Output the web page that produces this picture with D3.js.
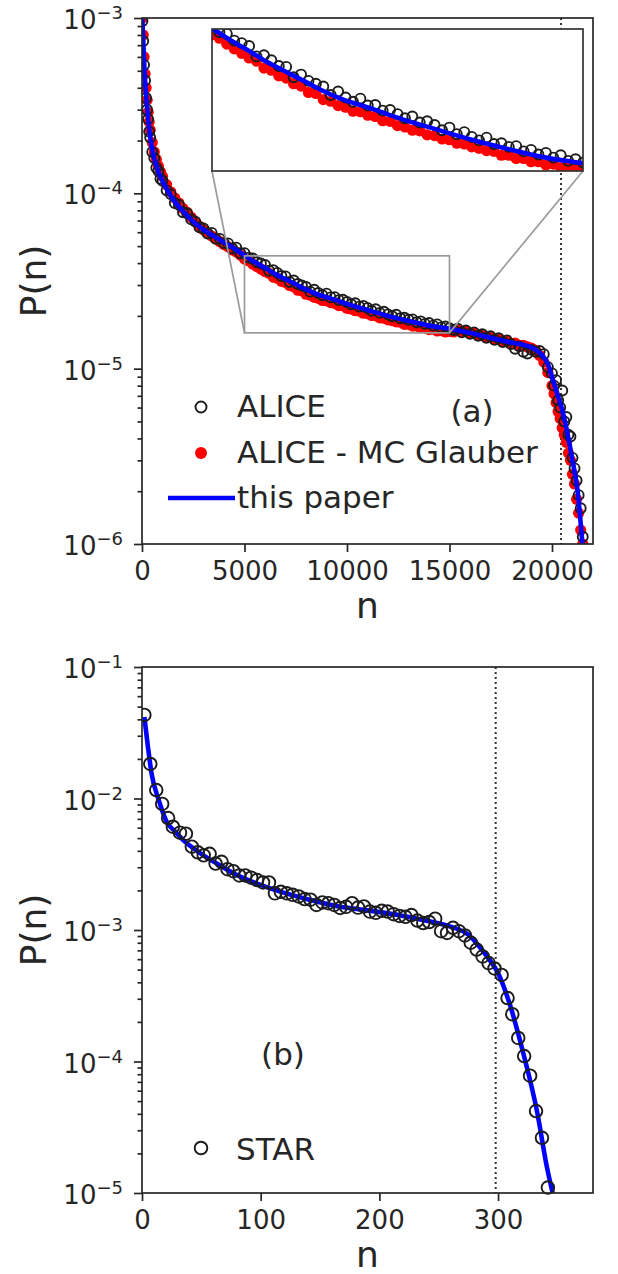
<!DOCTYPE html>
<html>
<head>
<meta charset="utf-8">
<script src="https://cdn.jsdelivr.net/npm/d3@7"></script>
<style>
  body { margin: 0; background: #fff; }
  text { font-family: "DejaVu Sans", sans-serif; fill: #262626; }
</style>
</head>
<body>
<svg id="chart"></svg>
<script>
// ---------------- data, panel (a) : values of P(n) in units of 1e-5 ----------------
const unitA = 1e-5;

const topN = [20, 60, 100, 150, 200, 250, 300, 350, 400, 500, 600, 700, 800, 900, 1000,
  1200, 1400, 1600, 1800, 2000, 2200, 2400, 2600, 2800, 3000,
  3200, 3400, 3600, 3800, 4000, 4200, 4400, 4600, 4800, 5000,
  5200, 5400, 5600, 5800, 6000, 6200, 6400, 6600, 6800, 7000,
  7200, 7400, 7600, 7800, 8000, 8200, 8400, 8600, 8800, 9000,
  9200, 9400, 9600, 9800, 10000, 10200, 10400, 10600, 10800, 11000,
  11200, 11400, 11600, 11800, 12000, 12200, 12400, 12600, 12800, 13000,
  13200, 13400, 13600, 13800, 14000, 14200, 14400, 14600, 14800, 15000,
  15200, 15400, 15600, 15800, 16000, 16200, 16400, 16600, 16800, 17000,
  17200, 17400, 17600, 17800, 18000, 18200, 18400, 18600, 18800, 19000,
  19200, 19400, 19600, 19800, 20000,
  20100, 20200, 20300, 20400, 20500, 20600, 20700, 20800, 20900, 21000,
  21100, 21200, 21300, 21400, 21500];

const aliceP = [96, 74, 54, 44, 35, 30, 26.5, 22.5, 20.8, 17.2, 15.9, 14.0, 13.4, 12.1, 11.8,
  10.4, 9.9, 8.8, 8.6, 7.8, 7.7, 7.1, 6.9, 6.4, 6.3,
  5.9, 5.95, 5.5, 5.5, 5.2, 5.18, 4.85, 4.9, 4.55, 4.56,
  4.3, 4.25, 4.05, 3.98, 3.9, 3.62, 3.65, 3.52, 3.38, 3.36,
  3.12, 3.18, 3.04, 2.98, 2.92, 2.75, 2.82, 2.70, 2.62, 2.68,
  2.55, 2.56, 2.46, 2.47, 2.40, 2.33, 2.36, 2.26, 2.28, 2.22,
  2.14, 2.18, 2.08, 2.11, 2.04, 1.99, 2.03, 1.94, 1.95, 1.90,
  1.91, 1.84, 1.86, 1.80, 1.82, 1.76, 1.79, 1.72, 1.74, 1.70,
  1.66, 1.69, 1.61, 1.65, 1.58, 1.61, 1.54, 1.57, 1.50, 1.53,
  1.46, 1.49, 1.42, 1.45, 1.38, 1.30, 1.34, 1.25, 1.22, 1.28,
  1.25, 1.26, 1.21, 1.02, 0.94,
  0.80, 0.86, 0.66, 0.60, 0.75, 0.50, 0.53, 0.42, 0.41, 0.31,
  0.27, 0.23, 0.19, 0.16, 0.11];

const glauberP = [100, 80, 60, 48, 40, 34, 29, 25.5, 23, 19.5, 17.2, 15.6, 14.3, 13.3, 12.5,
  11.2, 10.2, 9.4, 8.8, 8.2, 7.8, 7.3, 6.9, 6.5, 6.2,
  5.95, 5.7, 5.5, 5.3, 5.1, 4.95, 4.75, 4.62, 4.45, 4.22,
  4.12, 3.95, 3.82, 3.7, 3.58, 3.50, 3.33, 3.28, 3.15, 3.10,
  2.98, 2.93, 2.80, 2.78, 2.66, 2.63, 2.55, 2.52, 2.45, 2.44,
  2.38, 2.36, 2.29, 2.28, 2.21, 2.19, 2.14, 2.13, 2.07, 2.06,
  2.01, 2.00, 1.95, 1.94, 1.90, 1.88, 1.85, 1.84, 1.79, 1.79,
  1.75, 1.75, 1.71, 1.71, 1.67, 1.68, 1.64, 1.65, 1.62, 1.63,
  1.62, 1.66, 1.62, 1.63, 1.59, 1.59, 1.55, 1.55, 1.51, 1.51,
  1.47, 1.47, 1.43, 1.44, 1.39, 1.40, 1.36, 1.36, 1.33, 1.31,
  1.27, 1.19, 1.09, 0.95, 0.80,
  0.72, 0.64, 0.57, 0.52, 0.46, 0.42, 0.38, 0.33, 0.30, 0.25,
  0.22, 0.18, 0.15, 0.12, 0.10];

const fitN = [10, 50, 100, 150, 200, 250, 300, 400, 500, 700,
  900, 1200, 1500, 2000, 2500, 3000, 3500, 4000, 4500, 5000,
  5500, 6000, 6500, 7000, 7500, 8000, 8500, 9000, 9500, 10000,
  11000, 12000, 13000, 14000, 15000, 16000, 17000, 18000, 19000, 19500,
  19800, 20000, 20250, 20500, 20750, 21000, 21250, 21500];
const fitP = [105, 80, 57, 44, 36.5, 31, 26.5, 21, 17.8, 14.4,
  12.4, 10.6, 9.3, 7.9, 6.9, 6.2, 5.7, 5.25, 4.85, 4.43,
  4.06, 3.76, 3.47, 3.24, 3.03, 2.83, 2.67, 2.56, 2.45, 2.34,
  2.16, 2.0, 1.87, 1.76, 1.69, 1.6, 1.5, 1.41, 1.32, 1.2,
  1.06, 0.9, 0.72, 0.58, 0.43, 0.3, 0.2, 0.095];

const cutA = 20440;                 // dotted vertical line
const zoomN = [5000, 15000];        // inset window
const zoomP = [1.6e-5, 4.4e-5];

// ---------------- data, panel (b) ----------------
const starN = [2, 7, 12, 17, 22, 26, 32, 37, 42, 47, 52, 57, 62, 67, 72, 77, 82, 87, 92, 97,
  102, 107, 112, 117, 122, 127, 132, 137, 142, 147, 152, 157, 162, 167, 172, 177, 182, 187, 192, 197,
  202, 207, 212, 217, 222, 227, 232, 237, 242, 247, 252, 257, 262, 267, 272, 277, 282, 287, 292, 297,
  303, 308, 312, 317, 322, 327, 332, 337, 342];
const starP = [0.0432, 0.0183, 0.0116, 0.0091, 0.0071, 0.0061, 0.0055, 0.0054, 0.0043, 0.0039,
  0.0037, 0.0038, 0.0032, 0.0033, 0.0029, 0.0028, 0.0026, 0.0026, 0.0025, 0.0024,
  0.0023, 0.0023, 0.0019, 0.00195, 0.0019, 0.00185, 0.0018, 0.00172, 0.0017, 0.00155,
  0.00162, 0.0016, 0.00155, 0.00147, 0.0015, 0.0016, 0.00148, 0.00151, 0.00138, 0.00135,
  0.0014, 0.00138, 0.00132, 0.00128, 0.00126, 0.0013, 0.00118, 0.00113, 0.00115, 0.00122,
  0.00098, 0.00095, 0.00104, 0.00098, 0.00091, 0.0008, 0.00071, 0.00063, 0.00056, 0.00051,
  0.000455, 0.000304, 0.000229, 0.000151, 0.00011, 7.8e-5, 4.2e-5, 2.63e-5, 1.1e-5];

const starFitN = [2, 5, 8, 14, 21, 28, 35, 49, 63, 77, 105, 141, 167, 190, 220, 245, 260, 275,
  290, 300, 310, 321, 333, 341, 346];
const starFitP = [0.0417, 0.0247, 0.0156, 0.0098, 0.0066, 0.0056, 0.0048, 0.00385, 0.0032, 0.0027,
  0.00212, 0.0017, 0.0015, 0.00141, 0.00128, 0.00115, 0.00106, 0.00092,
  0.00064, 0.00047, 0.00027, 0.000118, 4.1e-5, 1.6e-5, 1.0e-5];

const cutB = 298;

// ---------------- setup ----------------
const width = 618, height = 1274;
const ink = "#262626";
const svg = d3.select("#chart").attr("width", width).attr("height", height);
const defs = svg.append("defs");

const alice = topN.map((n, i) => ({n: n, p: aliceP[i] * unitA}));
const glauber = topN.map((n, i) => ({n: n, p: glauberP[i] * unitA}));
const fitA = fitN.map((n, i) => ({n: n, p: fitP[i] * unitA}));
const star = starN.map((n, i) => ({n: n, p: starP[i]}));
const fitB = starFitN.map((n, i) => ({n: n, p: starFitP[i]}));

function clip(id, x0, y0, x1, y1) {
  defs.append("clipPath").attr("id", id)
    .append("rect").attr("x", x0).attr("y", y0).attr("width", x1 - x0).attr("height", y1 - y0);
  return "url(#" + id + ")";
}

// axes with log y, minor ticks and 10^k labels
function drawAxes(x, y, box, xticks, exps) {
  const gx = svg.append("g")
    .attr("transform", `translate(0,${box.bottom})`)
    .call(d3.axisBottom(x).tickValues(xticks).tickSize(8).tickPadding(10).tickFormat(d3.format("d")));
  gx.select(".domain").remove();
  gx.attr("font-size", 26).attr("font-family", "DejaVu Sans");
  gx.selectAll("line").attr("stroke", ink).attr("stroke-width", 1.7);
  gx.selectAll("text").attr("fill", ink);

  const majors = exps.map(e => Math.pow(10, e));
  const minors = [];
  for (let k = 0; k < exps.length - 1; k++)
    for (let m = 2; m <= 9; m++) minors.push(m * Math.pow(10, exps[k]));

  const gy = svg.append("g").attr("transform", `translate(${box.left},0)`);
  gy.call(d3.axisLeft(y).tickValues(majors).tickSize(8).tickFormat(""));
  gy.append("g").call(d3.axisLeft(y).tickValues(minors).tickSize(4.5).tickFormat(""));
  gy.selectAll(".domain").remove();
  gy.selectAll("line").attr("stroke", ink).attr("stroke-width", 1.7);

  exps.forEach(e => {
    const t = svg.append("text")
      .attr("x", box.left - 19)
      .attr("y", y(Math.pow(10, e)) + 11)
      .attr("text-anchor", "end")
      .attr("font-size", 26);
    t.append("tspan").text("10");
    t.append("tspan").attr("dy", -10).attr("font-size", 18).text("\u2212" + Math.abs(e));
  });

  // axis titles
  svg.append("text")
    .attr("x", (box.left + box.right) / 2).attr("y", box.bottom + 74)
    .attr("text-anchor", "middle").attr("font-size", 36).text("n");
  svg.append("text")
    .attr("transform", `translate(46,${(box.top + box.bottom) / 2}) rotate(-90)`)
    .attr("text-anchor", "middle").attr("font-size", 36).text("P(n)");
}

function frame(box, color, w) {
  svg.append("rect")
    .attr("x", box.left).attr("y", box.top)
    .attr("width", box.right - box.left).attr("height", box.bottom - box.top)
    .attr("fill", "none").attr("stroke", color).attr("stroke-width", w);
}

function drawSeries(g, x, y, r) {
  g.selectAll(".red").data(glauber).enter().append("circle")
    .attr("cx", d => x(d.n)).attr("cy", d => y(d.p)).attr("r", r + 0.6)
    .attr("fill", "#ff0000");
  g.selectAll(".open").data(alice).enter().append("circle")
    .attr("cx", d => x(d.n)).attr("cy", d => y(d.p)).attr("r", r)
    .attr("fill", "none").attr("stroke", "#1c1c1c").attr("stroke-width", 1.9);
  g.append("path").datum(fitA)
    .attr("fill", "none").attr("stroke", "#0000ff").attr("stroke-width", 4.6)
    .attr("d", d3.line().x(d => x(d.n)).y(d => y(d.p)).curve(d3.curveMonotoneX));
}

// ---------------- panel (a) ----------------
const boxA = {left: 142, right: 593, top: 18, bottom: 544};
const xA = d3.scaleLinear().domain([0, 22000]).range([boxA.left, boxA.right]);
const yA = d3.scaleLog().domain([1e-6, 1e-3]).range([boxA.bottom, boxA.top]);

svg.append("line")
  .attr("x1", xA(cutA)).attr("x2", xA(cutA)).attr("y1", boxA.top).attr("y2", boxA.bottom)
  .attr("stroke", "#333").attr("stroke-width", 2).attr("stroke-dasharray", "2,3");

const gA = svg.append("g").attr("clip-path", clip("clipA", boxA.left, boxA.top, boxA.right, boxA.bottom));
drawSeries(gA, xA, yA, 5);

drawAxes(xA, yA, boxA, [0, 5000, 10000, 15000, 20000], [-6, -5, -4, -3]);

// inset
const boxI = {left: 212, right: 583, top: 29, bottom: 171};
const xI = d3.scaleLinear().domain(zoomN).range([boxI.left, boxI.right]);
const yI = d3.scaleLog().domain(zoomP).range([boxI.bottom, boxI.top]);

// zoom rectangle and connectors on the main axes
const zr = {x0: xA(zoomN[0]), x1: xA(zoomN[1]), y0: yA(zoomP[1]), y1: yA(zoomP[0])};
svg.append("rect")
  .attr("x", zr.x0).attr("y", zr.y0).attr("width", zr.x1 - zr.x0).attr("height", zr.y1 - zr.y0)
  .attr("fill", "none").attr("stroke", "#9a9a9a").attr("stroke-width", 1.7);
svg.append("line").attr("x1", zr.x0).attr("y1", zr.y1).attr("x2", boxI.left).attr("y2", boxI.bottom)
  .attr("stroke", "#9a9a9a").attr("stroke-width", 1.7);
svg.append("line").attr("x1", zr.x1).attr("y1", zr.y1).attr("x2", boxI.right).attr("y2", boxI.bottom)
  .attr("stroke", "#9a9a9a").attr("stroke-width", 1.7);

svg.append("rect")
  .attr("x", boxI.left).attr("y", boxI.top)
  .attr("width", boxI.right - boxI.left).attr("height", boxI.bottom - boxI.top)
  .attr("fill", "#fff");
const gI = svg.append("g").attr("clip-path", clip("clipI", boxI.left, boxI.top, boxI.right, boxI.bottom));
drawSeries(gI, xI, yI, 5);
frame(boxI, "#333", 1.7);

frame(boxA, ink, 1.7);

// legend (a)
const legA = svg.append("g");
legA.append("circle").attr("cx", 201).attr("cy", 407).attr("r", 5.5)
  .attr("fill", "none").attr("stroke", "#1c1c1c").attr("stroke-width", 1.9);
legA.append("circle").attr("cx", 201).attr("cy", 453).attr("r", 6).attr("fill", "#ff0000");
legA.append("line").attr("x1", 168).attr("x2", 235).attr("y1", 498).attr("y2", 498)
  .attr("stroke", "#0000ff").attr("stroke-width", 4.6);
legA.selectAll("text").data(["ALICE", "ALICE - MC Glauber", "this paper"]).enter().append("text")
  .attr("x", 237).attr("y", (d, i) => 417 + i * 45.5)
  .attr("font-size", 31).text(d => d);

svg.append("text").attr("x", 472).attr("y", 422).attr("text-anchor", "middle")
  .attr("font-size", 31).text("(a)");

// ---------------- panel (b) ----------------
const boxB = {left: 142, right: 593, top: 667, bottom: 1193};
const xB = d3.scaleLinear().domain([0, 380]).range([boxB.left, boxB.right]);
const yB = d3.scaleLog().domain([1e-5, 1e-1]).range([boxB.bottom, boxB.top]);

svg.append("line")
  .attr("x1", xB(cutB)).attr("x2", xB(cutB)).attr("y1", boxB.top).attr("y2", boxB.bottom)
  .attr("stroke", "#333").attr("stroke-width", 2).attr("stroke-dasharray", "2,3");

const gB = svg.append("g").attr("clip-path", clip("clipB", boxB.left, boxB.top - 8, boxB.right, boxB.bottom + 8));
gB.append("path").datum(fitB)
  .attr("fill", "none").attr("stroke", "#0000ff").attr("stroke-width", 4.6)
  .attr("d", d3.line().x(d => xB(d.n)).y(d => yB(d.p)).curve(d3.curveMonotoneX));
gB.selectAll(".star").data(star).enter().append("circle")
  .attr("cx", d => xB(d.n)).attr("cy", d => yB(d.p)).attr("r", 6.3)
  .attr("fill", "none").attr("stroke", "#1c1c1c").attr("stroke-width", 1.9);

drawAxes(xB, yB, boxB, [0, 100, 200, 300], [-5, -4, -3, -2, -1]);
frame(boxB, ink, 1.7);

// legend (b)
svg.append("circle").attr("cx", 201).attr("cy", 1148).attr("r", 6.3)
  .attr("fill", "none").attr("stroke", "#1c1c1c").attr("stroke-width", 1.9);
svg.append("text").attr("x", 236).attr("y", 1160).attr("font-size", 31).text("STAR");
svg.append("text").attr("x", 283).attr("y", 1065).attr("text-anchor", "middle")
  .attr("font-size", 31).text("(b)");
</script>
</body>
</html>
